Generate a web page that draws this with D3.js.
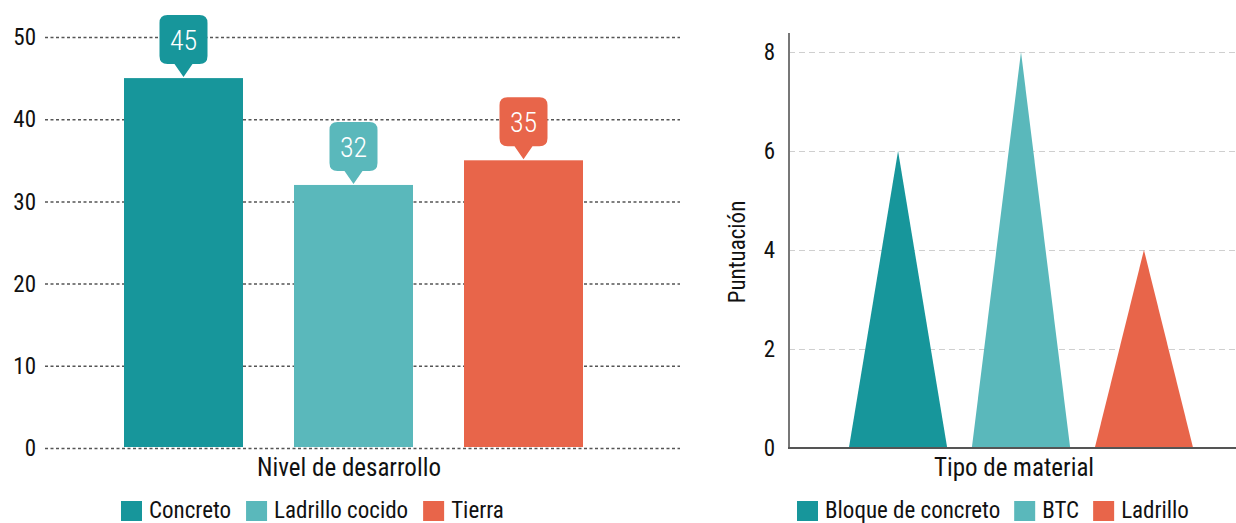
<!DOCTYPE html>
<html>
<head>
<meta charset="utf-8">
<script src="https://cdn.jsdelivr.net/npm/d3@7"></script>
<style>
  body { margin: 0; background: #fff; }
  svg text { font-family: "Liberation Sans Narrow", "Roboto Condensed", "Liberation Sans", sans-serif; fill: #111; }
</style>
</head>
<body>
<div id="chart"></div>
<script>
(function(d3) {

// left chart data
var barCategories = ["Concreto", "Ladrillo cocido", "Tierra"];
var barValues = [45, 32, 35];
var barTicks = [0, 10, 20, 30, 40, 50];

// right chart data
var triCategories = ["Bloque de concreto", "BTC", "Ladrillo"];
var triValues = [6, 8, 4];
var triTicks = [0, 2, 4, 6, 8];

var colors = ["#17969b", "#5ab8bb", "#e8654a"];

var svg = d3.select("#chart").append("svg")
    .attr("width", 1236)
    .attr("height", 523);

// ---------- left: bar chart ----------
var x = d3.scaleBand()
    .domain(barCategories)
    .range([73, 634])
    .paddingInner(0.3)
    .paddingOuter(0.3);
var y = d3.scaleLinear()
    .domain([0, 50])
    .range([448, 37]);

var gridLeft = svg.append("g")
    .attr("transform", "translate(45,0)")
    .call(d3.axisLeft(y).tickValues(barTicks).tickSize(-635).tickFormat(""));
gridLeft.select(".domain").remove();
gridLeft.selectAll("line")
    .attr("stroke", "#555")
    .attr("stroke-width", 1.5)
    .attr("stroke-dasharray", "3,2.5");

svg.selectAll("text.ylab-left")
    .data(barTicks)
    .enter().append("text")
    .attr("class", "ylab-left")
    .attr("x", 36)
    .attr("y", function(d) { return y(d); })
    .attr("dy", "0.36em")
    .attr("text-anchor", "end")
    .style("font-size", "23px")
    .text(function(d) { return d; });

svg.selectAll(".bar")
    .data(barValues)
    .enter().append("rect")
    .attr("class", "bar")
    .attr("x", function(d, i) { return x(barCategories[i]); })
    .attr("width", x.bandwidth())
    .attr("y", function(d) { return y(d); })
    .attr("height", function(d) { return y(0) - y(d) - 1; })
    .style("fill", function(d, i) { return colors[i]; });

// callout labels
var callout = svg.selectAll(".callout")
    .data(barValues)
    .enter().append("g")
    .attr("class", "callout")
    .attr("transform", function(d, i) {
      return "translate(" + (x(barCategories[i]) + x.bandwidth() / 2) + "," + y(d) + ")";
    });
callout.append("path")
    .attr("d", function() {
      var w = 24, r = 8, top = -63, bot = -14;
      return "M" + (-w + r) + "," + top +
        " L" + (w - r) + "," + top +
        " Q" + w + "," + top + " " + w + "," + (top + r) +
        " L" + w + "," + (bot - r) +
        " Q" + w + "," + bot + " " + (w - r) + "," + bot +
        " L9," + bot + " L0,-1 L-9," + bot +
        " L" + (-w + r) + "," + bot +
        " Q" + (-w) + "," + bot + " " + (-w) + "," + (bot - r) +
        " L" + (-w) + "," + (top + r) +
        " Q" + (-w) + "," + top + " " + (-w + r) + "," + top + " Z";
    })
    .style("fill", function(d, i) { return colors[i]; });
callout.append("text")
    .attr("y", -38)
    .attr("dy", "0.36em")
    .attr("text-anchor", "middle")
    .style("font-size", "28px")
    .style("font-weight", "300")
    .style("fill", "#fff")
    .text(function(d) { return d; });

svg.append("text")
    .attr("x", 349)
    .attr("y", 476)
    .attr("text-anchor", "middle")
    .style("font-size", "25px")
    .text("Nivel de desarrollo");

// ---------- right: triangle chart ----------
var x2 = d3.scaleBand()
    .domain(triCategories)
    .range([812, 1230])
    .paddingInner(0.2)
    .paddingOuter(0.3);
var y2 = d3.scaleLinear()
    .domain([0, 8])
    .range([448, 52]);

var gridRight = svg.append("g")
    .attr("transform", "translate(789,0)")
    .call(d3.axisLeft(y2).tickValues(triTicks.slice(1)).tickSize(-447).tickFormat(""));
gridRight.select(".domain").remove();
gridRight.selectAll("line")
    .attr("stroke", "#cfcfcf")
    .attr("stroke-width", 1.2)
    .attr("stroke-dasharray", "6,4");

svg.selectAll("text.ylab-right")
    .data(triTicks)
    .enter().append("text")
    .attr("class", "ylab-right")
    .attr("x", 775)
    .attr("y", function(d) { return y2(d); })
    .attr("dy", "0.36em")
    .attr("text-anchor", "end")
    .style("font-size", "23px")
    .text(function(d) { return d; });

svg.selectAll(".tri")
    .data(triValues)
    .enter().append("path")
    .attr("class", "tri")
    .attr("d", function(d, i) {
      var x0 = x2(triCategories[i]), bw = x2.bandwidth();
      return "M" + x0 + "," + y2(0) + " L" + (x0 + bw / 2) + "," + y2(d) +
        " L" + (x0 + bw) + "," + y2(0) + " Z";
    })
    .style("fill", function(d, i) { return colors[i]; });

// axis lines
svg.append("line")
    .attr("x1", 789).attr("x2", 789)
    .attr("y1", 33).attr("y2", 448)
    .attr("stroke", "#777").attr("stroke-width", 2);
svg.append("line")
    .attr("x1", 788).attr("x2", 1236)
    .attr("y1", 448).attr("y2", 448)
    .attr("stroke", "#555").attr("stroke-width", 2);

svg.append("text")
    .attr("transform", "translate(745,252) rotate(-90)")
    .attr("text-anchor", "middle")
    .style("font-size", "23px")
    .text("Puntuación");

svg.append("text")
    .attr("x", 1014)
    .attr("y", 476)
    .attr("text-anchor", "middle")
    .style("font-size", "25px")
    .text("Tipo de material");

// ---------- legends ----------
function legend(names, startX, gap) {
  var g = svg.append("g");
  var cx = startX;
  names.forEach(function(name, i) {
    g.append("rect")
      .attr("x", cx).attr("y", 501)
      .attr("width", 21).attr("height", 20)
      .style("fill", colors[i]);
    var t = g.append("text")
      .attr("x", cx + 28).attr("y", 518)
      .style("font-size", "23px")
      .text(name);
    cx += 28 + t.node().getComputedTextLength() + gap;
  });
}
legend(barCategories, 121, 15);
legend(triCategories, 797, 14);

})(window.d3);
</script>
</body>
</html>
